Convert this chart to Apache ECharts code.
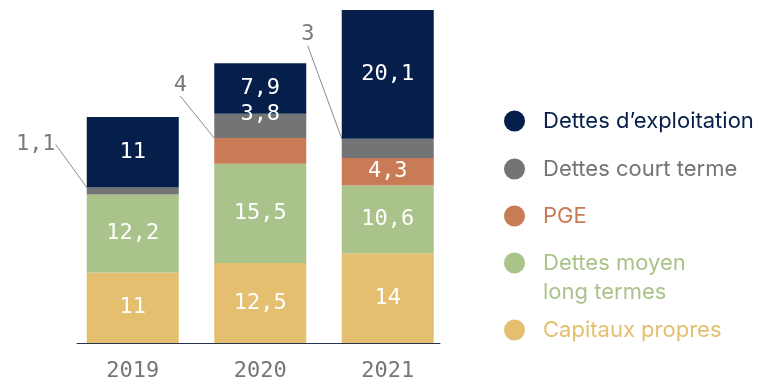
<!DOCTYPE html>
<html>
<head>
<meta charset="utf-8">
<script src="https://cdn.jsdelivr.net/npm/echarts@6/dist/echarts.min.js"></script>
<style>
  html, body { margin: 0; padding: 0; background: #ffffff; }
  #chart { width: 763px; height: 387px; }
</style>
</head>
<body>
<div id="chart"></div>
<script>
// Structure du financement (stack from bottom to top)
const years = ['2019', '2020', '2021'];
const capitauxPropres = [11, 12.5, 14];
const dettesMoyenLongTermes = [12.2, 15.5, 10.6];
const pge = [0, 4, 4.3];
const dettesCourtTerme = [1.1, 3.8, 3];
const dettesExploitation = [11, 7.9, 20.1];

const seriesNames = ['Capitaux propres', 'Dettes moyen long termes', 'PGE', 'Dettes court terme', "Dettes d\u2019exploitation"];
const seriesValues = [capitauxPropres, dettesMoyenLongTermes, pge, dettesCourtTerme, dettesExploitation];
const seriesColors = ['#e3bf6f', '#aac38a', '#c97b55', '#737475', '#051f4a'];

// labels drawn outside the bar, with a leader line: [dx, dy] from the segment's top-left corner
const outsideLabels = {
  'PGE': { 1: [-34, -53] },
  'Dettes court terme': { 0: [-51, -43], 2: [-34, -104] }
};
// small nudges for labels kept inside: [dx, dy]
const insideOffsets = {
  'Dettes court terme': { 1: [0, -12] }
};

const monoFont = 'DejaVu Sans Mono';
const fmt = v => String(v).replace('.', ',');

const chart = echarts.init(document.getElementById('chart'), null, { renderer: 'canvas' });

const series = seriesNames.map((name, si) => {
  const outside = outsideLabels[name] || {};
  const nudges = insideOffsets[name] || {};
  return {
    name: name,
    type: 'bar',
    stack: 'total',
    barWidth: 92,
    xAxisIndex: 0,
    yAxisIndex: 0,
    itemStyle: { color: seriesColors[si] },
    label: {
      show: true,
      position: 'inside',
      color: '#ffffff',
      fontFamily: monoFont,
      fontSize: 22,
      formatter: p => fmt(p.value)
    },
    data: seriesValues[si].map((v, i) => {
      const item = { value: v };
      if (v === 0) {
        item.label = { show: false };
      } else if (outside[i]) {
        item.label = { show: true, color: '#7a7a7a' };
        item.labelLine = { show: true, length2: 0, smooth: false, lineStyle: { color: '#8c8c8c', width: 1 } };
      }
      return item;
    }),
    labelLayout: function (params) {
      const d = outside[params.dataIndex];
      if (d) {
        return {
          x: params.rect.x + d[0],
          y: params.rect.y + d[1],
          align: 'center',
          verticalAlign: 'middle'
        };
      }
      const n = nudges[params.dataIndex];
      if (n) return { dx: n[0], dy: n[1] };
      return {};
    }
  };
});

// legend, one entry per row, top to bottom
const legendRows = [
  { name: "Dettes d\u2019exploitation", color: '#051f4a', center: 121 },
  { name: 'Dettes court terme', color: '#737475', center: 169 },
  { name: 'PGE', color: '#c97b55', center: 216 },
  { name: 'Dettes moyen long termes', color: '#aac38a', center: 263, text: '\nDettes moyen\nlong termes' },
  { name: 'Capitaux propres', color: '#e3bf6f', center: 330 }
];

const legends = legendRows.map(r => {
  const multi = !!r.text;
  return {
    data: [r.name],
    orient: 'vertical',
    left: 504,
    top: multi ? r.center - 43.5 : r.center - 11,
    padding: 0,
    icon: 'circle',
    itemWidth: 21,
    itemHeight: 21,
    selectedMode: false,
    formatter: multi ? () => r.text : undefined,
    textStyle: {
      fontFamily: 'Inter',
      fontSize: 22,
      color: r.color,
      lineHeight: multi ? 29 : 22,
      padding: [0, 0, 0, 13]
    }
  };
});

chart.setOption({
  animation: false,
  backgroundColor: '#ffffff',
  legend: legends,
  grid: [
    { left: 69, width: 382.5, top: 10, bottom: 44 },
    { left: 77, width: 363, top: 10, bottom: 44 }
  ],
  xAxis: [
    {
      type: 'category',
      gridIndex: 0,
      data: years,
      axisLine: { show: false },
      axisTick: { show: false },
      axisLabel: {
        color: '#767676',
        fontFamily: monoFont,
        fontSize: 22,
        margin: 17
      }
    },
    {
      type: 'category',
      gridIndex: 1,
      data: years,
      axisLine: { show: true, lineStyle: { color: '#26324f', width: 1 } },
      axisTick: { show: false },
      axisLabel: { show: false }
    }
  ],
  yAxis: [
    { type: 'value', gridIndex: 0, min: 0, max: 52, show: false, splitLine: { show: false } },
    { type: 'value', gridIndex: 1, min: 0, max: 52, show: false, splitLine: { show: false } }
  ],
  series: series
});
</script>
</body>
</html>
